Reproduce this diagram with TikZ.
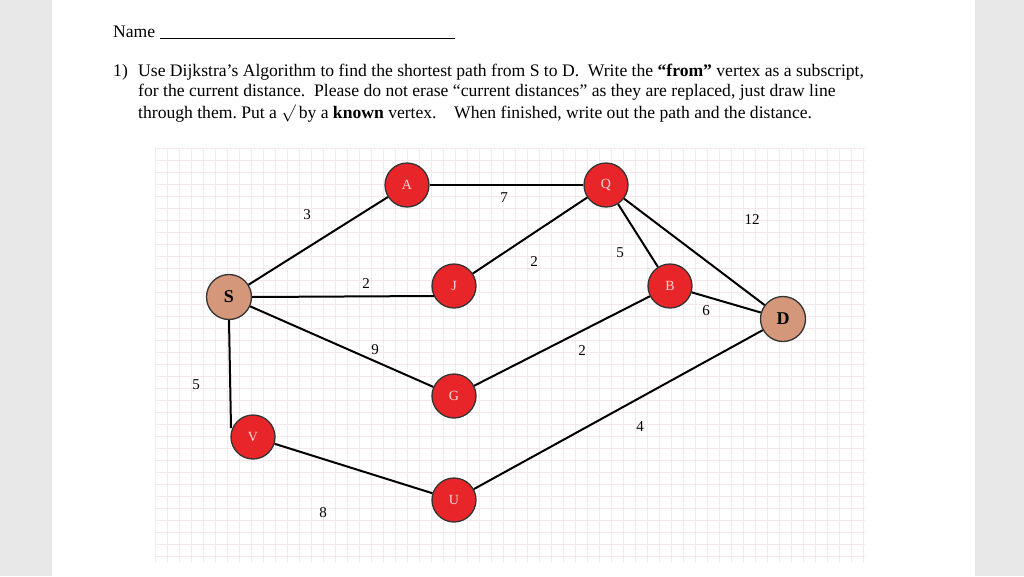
\documentclass[tikz,border=0pt]{standalone}
\usepackage{fontspec}
\setmainfont{Liberation Serif}
\definecolor{nred}{HTML}{E8262A}
\definecolor{ntan}{HTML}{D4977A}
\definecolor{gridc}{HTML}{F4E8EA}
\definecolor{side}{HTML}{E8E8E8}
\begin{document}
\begin{tikzpicture}[x=1pt,y=-1pt,
  rn/.style={circle,draw=black!80,line width=1.3pt,fill=nred,minimum size=44pt,inner sep=0pt,text=white!85!red,font=\fontsize{14}{14}\selectfont},
  tn/.style={circle,draw=black!80,line width=1.3pt,fill=ntan,minimum size=45pt,inner sep=0pt,font=\fontsize{18}{18}\selectfont\bfseries},
  ed/.style={line width=2pt,black},
  wl/.style={font=\fontsize{15}{15}\selectfont},
  tx/.style={anchor=base west,inner sep=0pt,font=\fontsize{17.6}{18}\selectfont}]
\useasboundingbox (0,0) rectangle (1024,576);
\fill[side] (0,0) rectangle (52,576);
\fill[side] (975,0) rectangle (1024,576);
\foreach \i in {0,...,59} \draw[gridc,line width=0.8pt] (155+12*\i,148) -- (155+12*\i,562);
\foreach \j in {0,...,34} \draw[gridc,line width=0.8pt] (155,148+12*\j) -- (865,148+12*\j);
\node[tx] (nm) at (113,37) {Name};
\draw[line width=1pt] (160,38) -- (455,38);
\node[tx] (n1) at (113,76) {1)};
\node[tx] (l1) at (138,76) {Use Dijkstra’s Algorithm to find the shortest path from S to D.\ \ Write the \textbf{“from”} vertex as a subscript,};
\node[tx] (l2) at (138,96) {for the current distance.\ \ Please do not erase “current distances” as they are replaced, just draw line};
\node[tx] (l3) at (138,118) {through them.\ Put a $\surd$\,by a \textbf{known} vertex.\ \ \ \ When finished, write out the path and the distance.};
\node[rn] (A) at (407,185) {A};
\node[rn] (Q) at (606,185) {Q};
\node[rn] (J) at (454,286) {J};
\node[rn] (B) at (670,286) {B};
\node[tn] (S) at (229,297) {S};
\node[tn] (D) at (783,319) {D};
\node[rn] (G) at (454,396) {G};
\node[rn] (V) at (253,437) {V};
\node[rn] (U) at (454,500) {U};
\coordinate (vt) at (231,428);
\coordinate (jt) at (434,296);
\draw[ed] (S) -- (A);
\draw[ed] (S.east) -- (jt);
\draw[ed] (S) -- (G);
\draw[ed] (S.south) -- (vt);
\draw[ed] (A) -- (Q);
\draw[ed] (J) -- (Q);
\draw[ed] (Q) -- (B);
\draw[ed] (Q) -- (D);
\draw[ed] (G) -- (B);
\draw[ed] (B) -- (D);
\draw[ed] (U) -- (D);
\draw[ed] (V) -- (U);
\node[wl] (w1) at (504,198) {7};
\node[wl] (w2) at (307,215) {3};
\node[wl] (w3) at (752,220) {12};
\node[wl] (w4) at (534,262) {2};
\node[wl] (w5) at (620,253) {5};
\node[wl] (w6) at (366,284) {2};
\node[wl] (w7) at (706,311) {6};
\node[wl] (w8) at (375,350) {9};
\node[wl] (w9) at (582,351) {2};
\node[wl] (w10) at (196,385) {5};
\node[wl] (w11) at (640,427) {4};
\node[wl] (w12) at (323,513) {8};
\end{tikzpicture}
\end{document}
